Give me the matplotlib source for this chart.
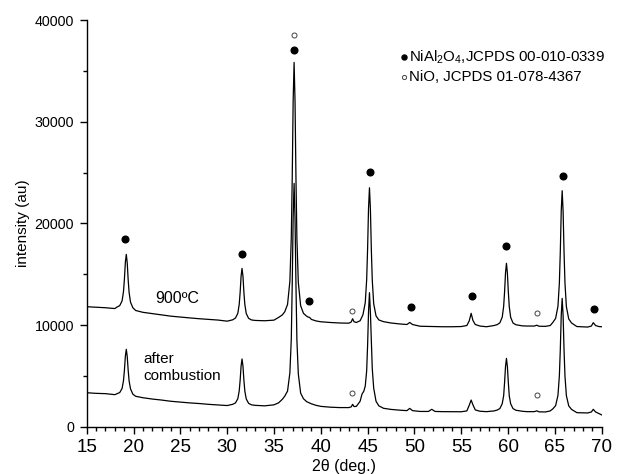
import numpy as np
import matplotlib
matplotlib.use('Agg')
import matplotlib.pyplot as plt

plt.rcParams['font.family'] = ['Liberation Sans', 'DejaVu Sans']
plt.rcParams['mathtext.fontset'] = 'custom'
plt.rcParams['mathtext.rm'] = 'Liberation Sans'
plt.rcParams['mathtext.it'] = 'Liberation Sans:italic'

# upper trace (900 C)
x_900 = [15.0, 16.0, 17.0, 18.0, 18.23, 18.53, 18.78, 18.93, 19.03, 19.13, 19.23, 19.33, 19.43, 19.53,
         19.68, 19.93, 20.23, 21.0, 22.0, 23.0, 24.0, 25.0, 26.0, 27.0, 28.0, 29.0, 30.0, 30.59,
         30.89, 31.14, 31.29, 31.39, 31.49, 31.59, 31.69, 31.79, 31.89, 32.04, 32.29, 32.59, 33.0,
         34.0, 35.0, 35.5, 35.9, 36.15, 36.45, 36.7, 36.85, 36.95, 37.05, 37.15, 37.25, 37.35, 37.45,
         37.6, 37.85, 38.15, 38.45, 38.6, 38.8, 39.0, 39.5, 40.0, 41.0, 42.0, 43.0, 43.25, 43.4, 43.55,
         43.8, 44.2, 44.5, 44.75, 44.9, 45.0, 45.1, 45.2, 45.3, 45.4, 45.5, 45.65, 45.9, 46.2, 46.7,
         47.5, 48.5, 49.2, 49.5, 49.8, 50.6, 52.0, 53.0, 54.0, 55.0, 55.6, 55.85, 56.06, 56.25, 56.5,
         57.0, 57.7, 58.5, 58.85, 59.13, 59.38, 59.53, 59.63, 59.73, 59.83, 59.93, 60.03, 60.13, 60.28,
         60.53, 60.83, 61.5, 62.0, 62.8, 63.08, 63.3, 64.0, 64.5, 64.78, 65.08, 65.33, 65.48, 65.58,
         65.68, 65.78, 65.88, 65.98, 66.08, 66.23, 66.48, 66.78, 67.35, 68.5, 68.9, 69.1, 69.35, 69.7,
         70.0]
y_900 = [11800, 11750, 11700, 11620, 11760, 11910, 12380, 13290, 14540, 16170, 16950, 16100, 14450, 13200,
         12250, 11700, 11430, 11250, 11120, 10980, 10870, 10780, 10700, 10620, 10560, 10490, 10380, 10510,
         10690, 11150, 12040, 13240, 14810, 15570, 14780, 13210, 12020, 11130, 10660, 10500, 10450,
         10420, 10480, 10750, 11000, 11300, 12020, 14300, 18600, 24430, 32030, 35830, 32000, 24400, 18500,
         14200, 11900, 11150, 10900, 10800, 10750, 10550, 10400, 10320, 10250, 10200, 10180, 10300, 10620, 10320,
         10250, 10420, 11000, 12200, 14460, 17500, 21500, 23500, 21400, 17400, 14400, 12100, 10900, 10500, 10330,
         10200, 10100, 10050, 10250, 10050, 9880, 9850, 9830, 9830, 9850, 9950, 10400, 11150, 10450, 10050,
         9900, 9830, 9950, 10040, 10220, 10780, 11840, 13270, 15140, 16070, 15100, 13250, 11800, 10750,
         10200, 10030, 9920, 9900, 9900, 9980, 9880, 9870, 9950, 10250, 10650, 11850, 14130, 17200,
         21210, 23210, 21150, 17150, 14100, 11800, 10600, 10200, 9850, 9800, 9900, 10230, 9950, 9850,
         9830]

# lower trace (after combustion)
x_comb = [15.0, 16.0, 17.0, 18.0, 18.23, 18.53, 18.78, 18.93, 19.03, 19.13, 19.23, 19.33, 19.43, 19.53,
          19.68, 19.93, 20.23, 21.0, 22.0, 23.0, 24.0, 25.0, 26.0, 27.0, 28.0, 29.0, 30.0, 30.59,
          30.89, 31.14, 31.29, 31.39, 31.49, 31.59, 31.69, 31.79, 31.89, 32.04, 32.29, 32.59, 33.0,
          34.0, 35.0, 35.5, 35.9, 36.15, 36.45, 36.7, 36.85, 36.95, 37.05, 37.15, 37.25, 37.35, 37.45,
          37.6, 37.85, 38.15, 38.5, 39.0, 39.5, 40.0, 41.0, 42.0, 43.0, 43.25, 43.4, 43.55, 43.8, 44.2,
          44.4, 44.6, 44.75, 44.9, 45.0, 45.1, 45.2, 45.3, 45.4, 45.5, 45.65, 45.9, 46.2, 46.7, 47.5,
          48.5, 49.2, 49.5, 49.8, 50.6, 51.5, 51.85, 52.2, 53.0, 54.0, 55.0, 55.6, 55.85, 56.06, 56.25,
          56.5, 57.0, 57.7, 58.5, 58.85, 59.13, 59.38, 59.53, 59.63, 59.73, 59.83, 59.93, 60.03, 60.13,
          60.28, 60.53, 60.83, 61.5, 62.0, 62.8, 63.08, 63.3, 64.0, 64.5, 64.78, 65.08, 65.33, 65.48,
          65.58, 65.68, 65.78, 65.88, 65.98, 66.08, 66.23, 66.48, 66.78, 67.35, 68.5, 68.9, 69.1, 69.35,
          69.7, 70.0]
y_comb = [3340, 3280, 3250, 3150, 3240, 3360, 3760, 4530, 5570, 6930, 7610, 6900, 5550, 4500,
          3720, 3200, 2990, 2850, 2720, 2620, 2500, 2420, 2340, 2280, 2200, 2140, 2080, 2200,
          2340, 2750, 3530, 4590, 5970, 6660, 5950, 4570, 3500, 2730, 2300, 2150, 2100,
          2050, 2150, 2350, 2700, 3000, 3500, 5300, 8600, 14000, 20600, 23930, 20500, 13900, 8500,
          5200, 3300, 2750, 2460, 2250, 2100, 2000, 1920, 1880, 1880, 1950, 2200, 1980, 2000, 2500,
          3200, 3500, 4000, 5500, 8000, 11300, 13180, 11200, 8300, 5700, 3800, 2500, 2050, 1810, 1700,
          1620, 1580, 1800, 1580, 1500, 1500, 1710, 1500, 1480, 1470, 1470, 1550, 2100, 2620, 2150,
          1650, 1520, 1480, 1550, 1640, 1790, 2270, 3050, 4360, 5930, 6720, 5900, 4330, 3030,
          2250, 1780, 1620, 1520, 1480, 1480, 1560, 1460, 1450, 1550, 1750, 2070, 3080, 5000,
          7570, 10940, 12620, 10900, 7500, 4950, 3050, 2050, 1700, 1380, 1350, 1450, 1710, 1450,
          1300, 1160]

# phase markers
nial_x = [19.09, 31.56, 37.15, 38.75, 45.27, 49.65, 56.13, 59.8, 65.85, 69.2]
nial_y = [18430, 17010, 37070, 12390, 25080, 11800, 12880, 17800, 24650, 11570]
nio_x = [37.15, 43.3, 63.08, 43.3, 63.14]
nio_y = [38550, 11380, 11210, 3340, 3120]

fig = plt.figure(figsize=(6.21, 4.74), dpi=100)
ax = fig.add_axes([0.1396, 0.0998, 0.8293, 0.858])

ax.plot(x_900, y_900, color='black', lw=0.9)
ax.plot(x_comb, y_comb, color='black', lw=0.9)
ax.plot(nial_x, nial_y, 'o', ms=4.8, color='black', mec='black')
ax.plot(nio_x, nio_y, 'o', ms=3.6, mfc='white', mec='#444444', mew=0.7)

ax.text(22.3, 12650, '900ºC', fontsize=11.5, ha='left', va='center')
ax.text(21.05, 5850, 'after\ncombustion', fontsize=11, ha='left', va='center', linespacing=1.25)

# legend: symbols + text
ax.plot([0.616], [0.909], 'o', ms=3.6, color='black', transform=ax.transAxes, clip_on=False)
ax.plot([0.616], [0.859], 'o', ms=3.0, mfc='white', mec='#444444', mew=0.7,
        transform=ax.transAxes, clip_on=False)
ax.text(0.6255, 0.909, 'NiAl$_2$O$_4$,JCPDS 00-010-0339', transform=ax.transAxes,
        fontsize=10.8, ha='left', va='center')
ax.text(0.6255, 0.859, 'NiO, JCPDS 01-078-4367', transform=ax.transAxes,
        fontsize=10.8, ha='left', va='center')

ax.set_xlim(15, 70)
ax.set_ylim(0, 40000)
ax.set_xticks(np.arange(15, 71, 5))
ax.set_xticks(np.arange(15, 71, 1), minor=True)
ax.set_yticks(np.arange(0, 40001, 10000))
ax.set_yticks(np.arange(0, 40001, 5000), minor=True)
ax.tick_params(axis='x', which='major', labelsize=13.5, length=5, width=1, pad=4)
ax.tick_params(axis='y', which='major', labelsize=10.3, length=5, width=1, pad=4)
ax.tick_params(which='minor', length=3, width=1)

for side in ['top', 'right']:
    ax.spines[side].set_visible(False)
for side in ['left', 'bottom']:
    ax.spines[side].set_linewidth(1)

fig.text(23 / 621, 1 - 223 / 474, 'intensity (au)', rotation=90, fontsize=11, ha='center', va='center')
fig.text(344 / 621, 1 - 466 / 474, '2θ (deg.)', fontsize=11.5, ha='center', va='center')

fig.savefig('out.png', dpi=100)
